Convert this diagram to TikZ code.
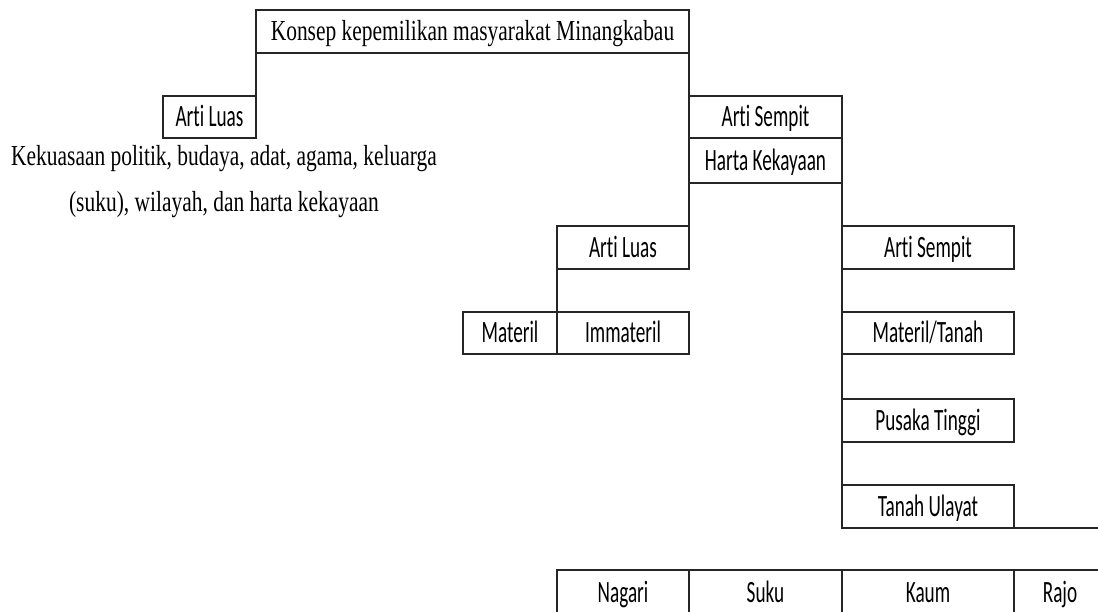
\documentclass[tikz,border=0pt]{standalone}
\usepackage{fontspec}
\setmainfont{Liberation Serif}[FakeStretch=0.74]
\newfontfamily\calfont{Carlito}[FakeStretch=0.62, Ligatures={NoCommon}]

\tikzset{
  cell/.style={draw=black!85, line width=1.4pt, inner sep=0pt, outer sep=0pt,
    font=\calfont\fontsize{31}{31}\selectfont, text height=20pt, text depth=0pt},
  titlecell/.style={cell, font=\rmfamily\fontsize{29}{29}\selectfont, text height=19pt},
  link/.style={draw=black!85, line width=1.4pt},
}

\begin{document}
\begin{tikzpicture}[x=1pt, y=-1pt]
\useasboundingbox (0,0) rectangle (1098,612);
\fill[white] (0,0) rectangle (1098,612);
\clip (0,0) rectangle (1098,612);

% top
\node[titlecell, minimum width=433pt, minimum height=43pt] (konsep) at (472.5,31.5) {Konsep kepemilikan masyarakat Minangkabau};

% left branch
\node[cell, minimum width=93pt, minimum height=42pt] (luasA) at (209.5,117) {Arti Luas};
\node[align=center, font=\rmfamily\fontsize{29}{46}\selectfont, anchor=base] (luasText) at (224,212)
  {Kekuasaan politik, budaya, adat, agama, keluarga\\(suku), wilayah, dan harta kekayaan};

% right branch
\node[cell, minimum width=153pt, minimum height=42pt] (sempitA) at (765.5,117) {Arti Sempit};
\node[cell, minimum width=153pt, minimum height=45pt] (harta) at (765.5,160.5) {Harta Kekayaan};

\node[cell, minimum width=132pt, minimum height=43pt] (luasB) at (623,247.5) {Arti Luas};
\node[cell, minimum width=94pt, minimum height=42pt] (materil) at (510,333) {Materil};
\node[cell, minimum width=132pt, minimum height=42pt] (immateril) at (623,333) {Immateril};

\node[cell, minimum width=172pt, minimum height=43pt] (sempitB) at (928,247.5) {Arti Sempit};
\node[cell, minimum width=172pt, minimum height=42pt] (tanah) at (928,333) {Materil/Tanah};
\node[cell, minimum width=172pt, minimum height=43pt] (pusaka) at (928,420.5) {Pusaka Tinggi};
\node[cell, minimum width=172pt, minimum height=43pt] (ulayat) at (928,506.5) {Tanah Ulayat};
\coordinate (edgeR) at (1098,528);

% bottom row
\node[cell, minimum width=132pt, minimum height=45pt] (nagari) at (623,592.5) {Nagari};
\node[cell, minimum width=153pt, minimum height=45pt] (suku) at (765.5,592.5) {Suku};
\node[cell, minimum width=172pt, minimum height=45pt] (kaum) at (928,592.5) {Kaum};
\node[cell, minimum width=92pt, minimum height=45pt] (rajo) at (1060,592.5) {Rajo};

% connectors
\draw[link] (konsep.south west) -- (luasA.north east);
\draw[link] (konsep.south east) -- (sempitA.north west);
\draw[link] (harta.south west) -- (luasB.north east);
\draw[link] (luasB.south west) -- (immateril.north west);
\draw[link] (harta.south east) -- (sempitB.north west);
\draw[link] (sempitB.south west) -- (tanah.north west);
\draw[link] (tanah.south west) -- (pusaka.north west);
\draw[link] (pusaka.south west) -- (ulayat.north west);
\draw[link] (ulayat.south east) -- (edgeR);
\end{tikzpicture}
\end{document}
